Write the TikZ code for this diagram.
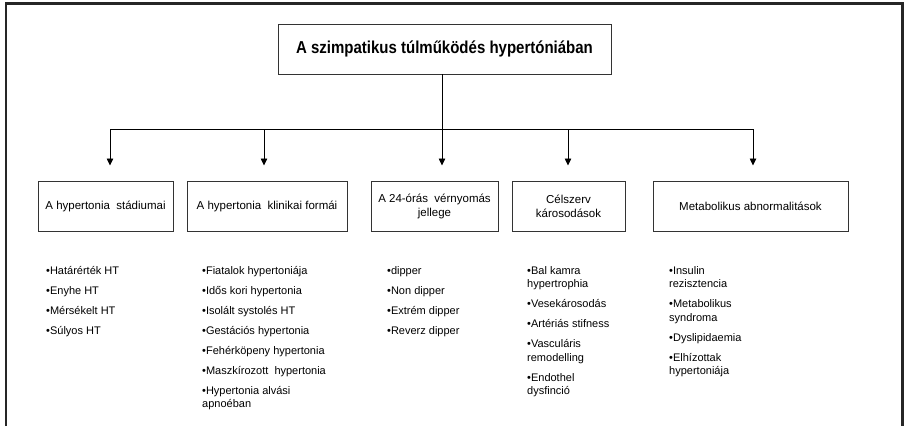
\documentclass[tikz,border=0pt]{standalone}
\usepackage{fontspec}
\setmainfont{Liberation Sans}
\usetikzlibrary{arrows.meta}
\newcommand{\firstline}{\rule{0pt}{10pt}}
\begin{document}
\begin{tikzpicture}[x=1pt,y=-1pt,
  framebox/.style={draw=black!80,line width=0.8pt,inner sep=2pt,align=center,
    font=\fontsize{11.5}{14}\selectfont},
  conn/.style={line width=0.8pt,black},
  arr/.style={conn,-{Triangle[length=7pt,width=6.5pt]}},
  itemlist/.style={anchor=north west,inner sep=0pt,align=left,
    font=\fontsize{11}{13.5}\selectfont}]
\useasboundingbox (0,0) rectangle (904,426);
% page frame (open at the bottom)
\draw[line width=2.6pt,black!85] (6,426) -- (6,3.3) -- (902.7,3.3) -- (902.7,426);

% root
\node[framebox,minimum width=333pt,minimum height=50pt,
  font=\bfseries\fontsize{15}{18}\selectfont] (top) at (444.5,49)
  {\scalebox{1}[1.15]{A szimpatikus túlműködés hypertóniában}};

% categories
\node[framebox,minimum width=135pt,minimum height=50pt] (b1) at (105.5,206) {A hypertonia\ \ stádiumai};
\node[framebox,minimum width=160pt,minimum height=50pt] (b2) at (267,206) {A hypertonia\ \ klinikai formái};
\node[framebox,minimum width=127pt,minimum height=50pt] (b3) at (434.5,206) {A 24-órás\ \ vérnyomás\\jellege};
\node[framebox,minimum width=113pt,minimum height=50pt] (b4) at (568.5,206) {Célszerv\\károsodások};
\node[framebox,minimum width=195pt,minimum height=50pt] (b5) at (750.5,206) {Metabolikus abnormalitások};

% tree connectors
\coordinate (busL) at (110,129);
\coordinate (busR) at (753,129);
\coordinate (busC) at (442,129);
\draw[conn] (busL) -- (busR);
\draw[conn] (top.south -| busC) -- (busC);
\foreach \x/\n in {110/1,264/2,442/3,568/4,753/5}{
  \coordinate (s\n) at (\x,129);
  \coordinate (t\n) at (\x,165.5);
  \draw[arr] (s\n) -- (t\n);
}

% item lists
\node[itemlist] (l1) at (46,264) {\firstline•Határérték HT\\[6.5pt]•Enyhe HT\\[6.5pt]•Mérsékelt HT\\[6.5pt]•Súlyos HT};
\node[itemlist] (l2) at (202,264) {\firstline•Fiatalok hypertoniája\\[6.5pt]•Idős kori hypertonia\\[6.5pt]•Isolált systolés HT\\[6.5pt]•Gestációs hypertonia\\[6.5pt]•Fehérköpeny hypertonia\\[6.5pt]•Maszkírozott\ \ hypertonia\\[6.5pt]•Hypertonia alvási\\apnoéban};
\node[itemlist] (l3) at (387,264) {\firstline•dipper\\[6.5pt]•Non dipper\\[6.5pt]•Extrém dipper\\[6.5pt]•Reverz dipper};
\node[itemlist] (l4) at (527,264) {\firstline•Bal kamra\\hypertrophia\\[6.5pt]•Vesekárosodás\\[6.5pt]•Artériás stifness\\[6.5pt]•Vasculáris\\remodelling\\[6.5pt]•Endothel\\dysfinció};
\node[itemlist] (l5) at (669,264) {\firstline•Insulin\\rezisztencia\\[6.5pt]•Metabolikus\\syndroma\\[6.5pt]•Dyslipidaemia\\[6.5pt]•Elhízottak\\hypertoniája};
\end{tikzpicture}
\end{document}
